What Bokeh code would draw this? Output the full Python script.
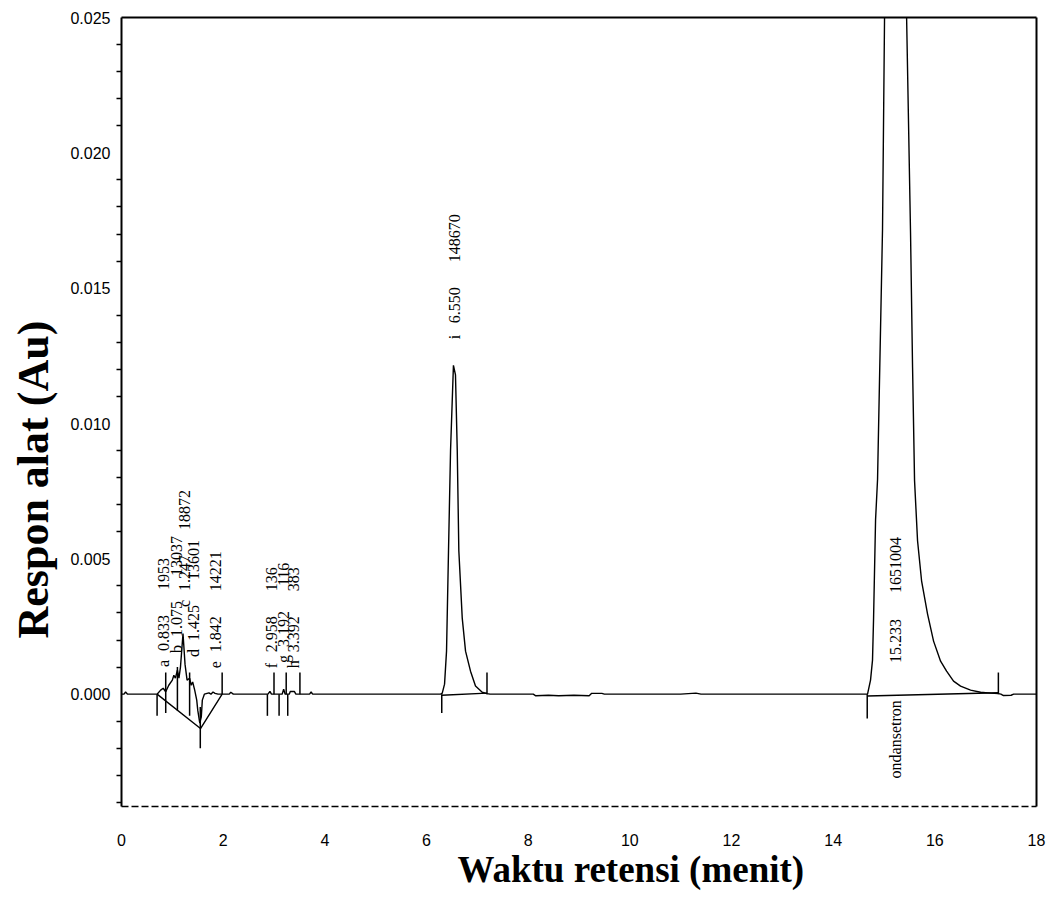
import math
from bokeh.plotting import figure
from bokeh.models import Range1d, FixedTicker, NumeralTickFormatter, LinearAxis, Title, ColumnDataSource
from bokeh.core.properties import value
from bokeh.embed import file_html
from bokeh.resources import INLINE

# ---------------- data ----------------
time_min = [0.00, 0.05, 0.08, 0.12, 0.70, 0.77, 0.82, 0.87, 0.93, 1.00, 1.03, 1.06, 1.10, 1.13, 1.16,
            1.21, 1.25, 1.29, 1.34, 1.37, 1.40, 1.44, 1.48, 1.50, 1.54, 1.57, 1.59, 1.63, 1.72, 1.76,
            1.80, 1.84, 1.90, 2.12, 2.15, 2.20, 2.88, 2.92, 2.95, 3.16, 3.19, 3.22, 3.30, 3.32, 3.40,
            3.43, 3.70, 3.73, 3.76,
            6.28, 6.31, 6.355, 6.394, 6.433, 6.473, 6.53, 6.57, 6.605, 6.636, 6.703, 6.768, 6.866,
            6.964, 7.096, 7.19, 7.25,
            8.10, 8.15, 8.40, 8.60, 8.90, 9.20, 9.25, 9.45, 9.50, 11.00, 11.30, 11.40, 14.60,
            14.676, 14.735, 14.774, 14.794, 14.834, 14.873, 14.912, 14.971, 15.011, 15.04, 15.23,
            15.41, 15.444, 15.522, 15.562, 15.601, 15.660, 15.739, 15.857, 15.975, 16.113, 16.231,
            16.368, 16.506, 16.703, 16.900, 17.097, 17.25, 17.30, 17.35, 17.50, 17.55, 18.00]
response_au = [0.0, 0.0, 0.00008, 0.0, 0.0, 0.00015, 0.00022, 0.00009, 0.00033, 0.00052, 0.00070,
               0.00059, 0.00089, 0.00059, 0.00100, 0.00224, 0.00110, 0.00052, 0.00059, 0.00033,
               0.00045, 0.00015, -0.00022, -0.00059, -0.00107, -0.00084, -0.00022, 0.0, 0.00005,
               0.0, 0.00008, 0.00003, 0.0, 0.0, 0.00007, 0.0, 0.0, 0.00010, 0.0, 0.0, 0.00018, 0.0,
               0.0, 0.00010, 0.00010, 0.0, 0.0, 0.00008, 0.0,
               0.0, 0.00004, 0.00037, 0.00159, 0.0053, 0.0090, 0.01215, 0.0118, 0.0090, 0.0053,
               0.00281, 0.00159, 0.00085, 0.00030, 0.00007, 0.00002, 0.0,
               0.0, -0.00006, -0.00004, -0.00006, -0.00004, -0.00006, 0.00003, 0.00003, 0.0, 0.0,
               0.00004, 0.0, 0.0,
               0.0, 0.00052, 0.00126, 0.00274, 0.00644, 0.00793, 0.01163, 0.01719, 0.02507, 0.030,
               0.050, 0.030, 0.02507, 0.01704, 0.01207, 0.00789, 0.00567, 0.00419, 0.00296, 0.00196,
               0.00122, 0.00085, 0.00048, 0.00030, 0.00015, 0.00007, 0.00004, 0.00002, 0.0,
               -0.00005, -0.00004, 0.0, 0.0]

# peak event markers (time, top, bottom)
mark_t = [0.70, 0.87, 1.10, 1.34, 1.55, 1.98, 2.87, 3.00, 3.10, 3.24, 3.27, 3.51, 6.30, 7.19, 14.67, 17.25]
mark_top = [0.0, 0.0008, 0.0010, 0.0008, -0.00047, 0.0008, 0.0, 0.0008, 0.0, 0.0008, 0.0, 0.0008,
            0.0, 0.0008, 0.0, 0.0008]
mark_bot = [-0.0008, -0.0007, -0.0006, -0.0008, -0.0020, 0.0, -0.0008, 0.0, -0.0008, 0.0, -0.0008, 0.0,
            -0.0007, 0.0, -0.0009, 0.0]

# integration baselines
base_t = [[0.70, 1.554, 1.98], [6.30, 7.19], [14.67, 17.25]]
base_y = [[0.0, -0.00127, 0.0], [-0.00004, 0.00004], [-0.00007, 0.00005]]

# peak annotations
peak_letters = ["a", "b", "c", "d", "e", "f", "g", "h", "i"]
peak_rt = ["0.833", "1.075", "1.247", "1.425", "1.842", "2.958", "3.192", "3.392", "6.550"]
peak_area = ["1953", "13037", "18872", "13601", "14221", "136", "116", "383", "148670"]
label_base = [0.00100, 0.00152, 0.00322, 0.00137, 0.00096, 0.00096, 0.00115, 0.00096, 0.01311]

main_name = ["ondansetron"]
main_rt = ["15.233"]
main_area = ["1651004"]
main_label_base = [0.00115]

x_ticks = [0, 2, 4, 6, 8, 10, 12, 14, 16, 18]
y_ticks = [0.000, 0.005, 0.010, 0.015, 0.020, 0.025]
y_minor = [-0.004, -0.003, -0.002, -0.001, 0.001, 0.002, 0.003, 0.004, 0.006, 0.007, 0.008, 0.009,
           0.011, 0.012, 0.013, 0.014, 0.016, 0.017, 0.018, 0.019, 0.021, 0.022, 0.023, 0.024]

x_title = "Waktu retensi (menit)"
y_title = "Respon alat (Au)"

# ---------------- figure ----------------
p = figure(frame_width=915, frame_height=789, output_backend="svg", toolbar_location=None,
           x_range=Range1d(0, 18), y_range=Range1d(-0.00415, 0.025),
           min_border_left=121, min_border_top=17, min_border_right=10, min_border_bottom=0)
p.outline_line_color = None
p.grid.visible = False
p.background_fill_color = "white"
p.border_fill_color = "white"

ax = p.xaxis[0]
ax.ticker = FixedTicker(ticks=x_ticks)
ax.major_tick_out = 0
ax.major_tick_in = 0
ax.minor_tick_out = 0
ax.minor_tick_in = 0
ax.axis_line_color = "black"
ax.axis_line_width = 1.5
ax.axis_line_dash = "7 3"
ax.major_label_standoff = 27
ax.major_label_text_font = "Liberation Sans"
ax.major_label_text_font_size = "16px"
ax.major_label_text_color = "black"

ay = p.yaxis[0]
ay.ticker = FixedTicker(ticks=y_ticks, minor_ticks=y_minor)
ay.formatter = NumeralTickFormatter(format="0.000")
ay.major_tick_out = 5
ay.major_tick_in = 0
ay.major_tick_line_color = None
ay.minor_tick_out = 5
ay.minor_tick_in = 0
ay.minor_tick_line_width = 1.5
ay.axis_line_width = 2
ay.axis_line_color = "black"
ay.major_label_standoff = 6
ay.major_label_text_font = "Liberation Sans"
ay.major_label_text_font_size = "16px"
ay.major_label_text_color = "black"

for loc in ("above", "right"):
    extra = LinearAxis(ticker=FixedTicker(ticks=[]), major_tick_out=0, major_tick_in=0,
                       minor_tick_out=0, minor_tick_in=0, axis_line_width=2,
                       major_label_text_font_size="0px")
    p.add_layout(extra, loc)

# trace
p.line(time_min, response_au, line_color="black", line_width=1.4)
# integration baselines
p.multi_line(base_t, base_y, line_color="black", line_width=1.4)
# event markers
p.segment(x0=mark_t, y0=mark_top, x1=mark_t, y1=mark_bot, line_color="black", line_width=1.5)

# peak labels
rt_x = [float(r) for r in peak_rt]
src = ColumnDataSource(dict(x=rt_x, y=label_base, letter=peak_letters, rt=peak_rt, area=peak_area))
common = dict(angle=math.pi / 2, text_align="left", text_baseline="middle",
              text_font=value("Liberation Serif"), text_font_size="16px", text_color="black")
p.text(x="x", y="y", text="letter", source=src, y_offset=0, **common)
p.text(x="x", y="y", text="rt", source=src, y_offset=-16, **common)
p.text(x="x", y="y", text="area", source=src, y_offset=-77, **common)

msrc = ColumnDataSource(dict(x=[float(r) for r in main_rt], y=main_label_base, rt=main_rt,
                             area=main_area, name=main_name, zero=[0.0]))
p.text(x="x", y="y", text="rt", source=msrc, y_offset=0, **common)
p.text(x="x", y="y", text="area", source=msrc, y_offset=-70, **common)
p.text(x="x", y="zero", text="name", source=msrc, y_offset=6, angle=math.pi / 2, text_align="right",
       text_baseline="middle", text_font=value("Liberation Serif"), text_font_size="16px",
       text_color="black")

# axis titles
p.add_layout(Title(text=x_title, align="left", offset=336, vertical_align="top", standoff=0,
                   text_font="Liberation Serif", text_font_style="bold", text_font_size="37px",
                   text_color="black"), "below")
p.add_layout(Title(text=y_title, align="left", offset=168, vertical_align="top", standoff=16,
                   text_font="Liberation Serif", text_font_style="bold", text_font_size="44px",
                   text_color="black"), "left")

open("out.html", "w").write(file_html(p, INLINE))
